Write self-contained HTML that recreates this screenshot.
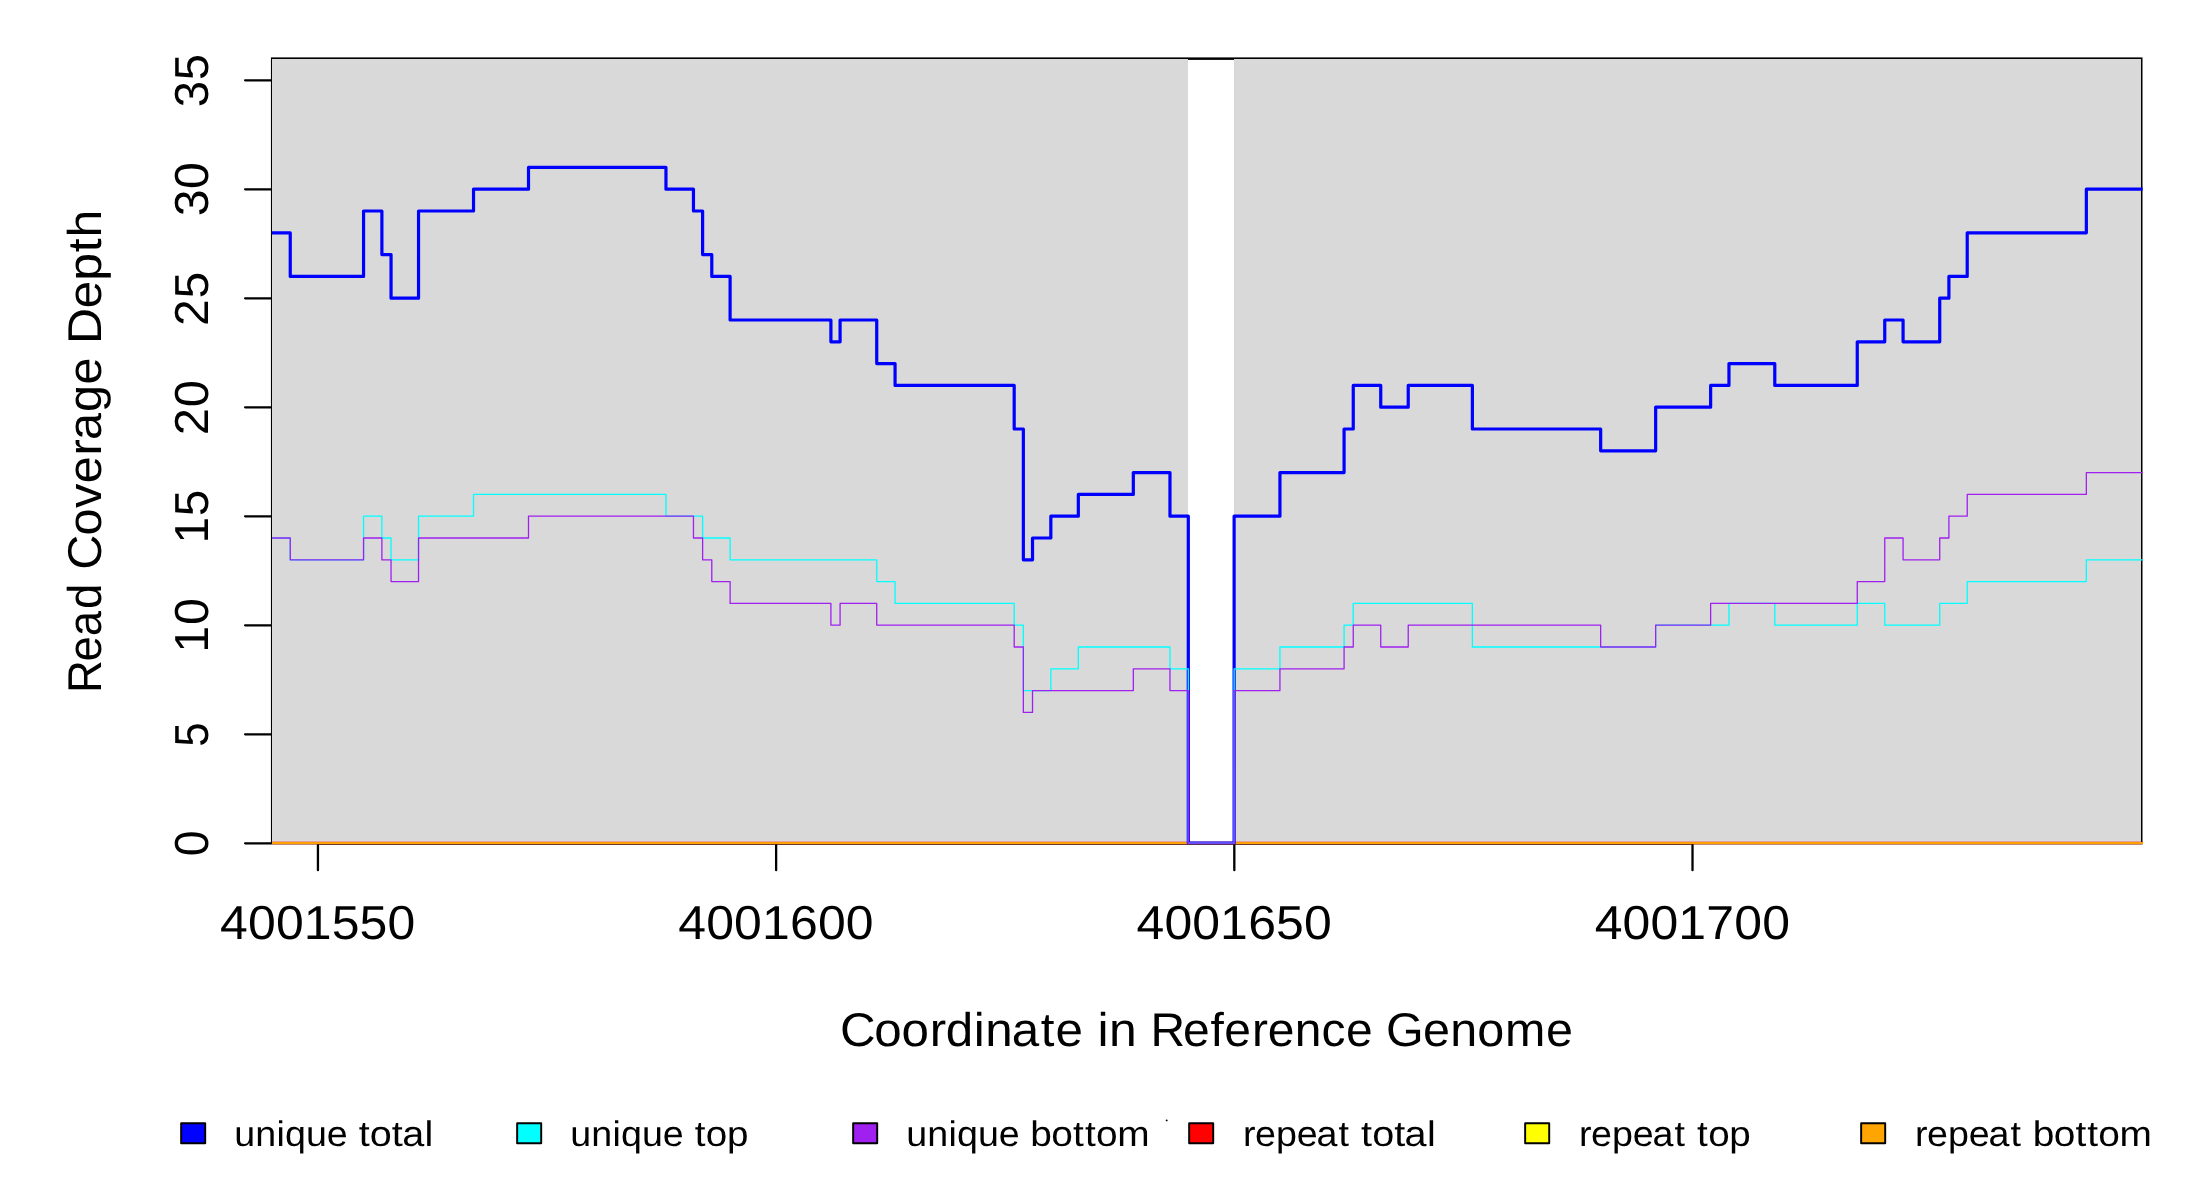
<!DOCTYPE html>
<html><head><meta charset="utf-8"><title>coverage</title>
<style>html,body{margin:0;padding:0;background:#fff}svg{display:block}text{font-family:"Liberation Sans",sans-serif;fill:#000;font-kerning:none;text-rendering:geometricPrecision}</style></head><body>
<svg width="2200" height="1200" viewBox="0 0 2200 1200">
<rect width="2200" height="1200" fill="#fff"/>
<defs><clipPath id="c"><rect x="272" y="40" width="1870.7" height="804.35"/></clipPath></defs>
<rect x="270.93" y="57.4" width="1871.57" height="786.95" fill="#000"/>
<rect x="316.84" y="843" width="1376.77" height="1.6" fill="#000"/>
<rect x="273.1" y="59.9" width="1867" height="782.1" fill="#fff"/>
<rect x="272" y="59" width="916" height="784.2" fill="#D9D9D9"/>
<rect x="1234" y="59" width="907" height="784.2" fill="#D9D9D9"/>
<g fill="none" stroke-linecap="round" stroke-linejoin="round">
<g clip-path="url(#c)">
<path d="M271.92 843.2H2144.34" stroke="#FF0000" stroke-width="3.0"/>
<path d="M271.92 843.2H2144.34" stroke="#FFFF00" stroke-width="1.3"/>
<path d="M271.92 843.2H2144.34" stroke="#FFA500" stroke-width="1.9"/>
<path d="M271.92 232.8H290.25V276.4H363.56V211H381.89V254.6H391.05V298.2H418.54V211H473.52V189.2H528.51V167.4H665.96V189.2H693.45V211H702.62V254.6H711.78V276.4H730.11V320H830.91V341.8H840.08V320H876.73V363.6H895.06V385.4H1014.19V429H1023.35V559.8H1032.52V538H1050.84V516.2H1078.33V494.4H1133.32V472.6H1169.97V516.2H1188.3V843.2H1234.12V516.2H1279.94V472.6H1344.08V429H1353.25V385.4H1380.74V407.2H1408.23V385.4H1472.38V429H1600.67V450.8H1655.65V407.2H1710.64V385.4H1728.96V363.6H1774.78V385.4H1857.26V341.8H1884.75V320H1903.08V341.8H1939.73V298.2H1948.9V276.4H1967.22V232.8H2086.35V189.2H2141.34h3" stroke="#0000FF" stroke-width="3.2"/>
<path d="M271.92 538H290.25V559.8H363.56V516.2H381.89V538H391.05V559.8H418.54V516.2H473.52V494.4H665.96V516.2H702.62V538H730.11V559.8H876.73V581.6H895.06V603.4H1014.19V625.2H1023.35V690.6H1050.84V668.8H1078.33V647H1169.97V668.8H1188.3V843.2H1234.12V668.8H1279.94V647H1344.08V625.2H1353.25V603.4H1472.38V647H1655.65V625.2H1728.96V603.4H1774.78V625.2H1857.26V603.4H1884.75V625.2H1939.73V603.4H1967.22V581.6H2086.35V559.8H2141.34h3" stroke="#00FFFF" stroke-width="1.3"/>
<path d="M271.92 538H290.25V559.8H363.56V538H381.89V559.8H391.05V581.6H418.54V538H528.51V516.2H693.45V538H702.62V559.8H711.78V581.6H730.11V603.4H830.91V625.2H840.08V603.4H876.73V625.2H1014.19V647H1023.35V712.4H1032.52V690.6H1133.32V668.8H1169.97V690.6H1188.3V843.2H1234.12V690.6H1279.94V668.8H1344.08V647H1353.25V625.2H1380.74V647H1408.23V625.2H1600.67V647H1655.65V625.2H1710.64V603.4H1857.26V581.6H1884.75V538H1903.08V559.8H1939.73V538H1948.9V516.2H1967.22V494.4H2086.35V472.6H2141.34h3" stroke="#A020F0" stroke-width="1.3"/>
</g>
<path d="M245.1 843.3H270.8M245.1 734.3H270.8M245.1 625.3H270.8M245.1 516.3H270.8M245.1 407.3H270.8M245.1 298.3H270.8M245.1 189.3H270.8M245.1 80.3H270.8M317.94 845.3V870.2M776.13 845.3V870.2M1234.32 845.3V870.2M1692.51 845.3V870.2" stroke="#000" stroke-width="2.3"/>
</g>
<g opacity="0.999">
<text transform="translate(219.54 938.8) scale(1.0459 1)" font-size="47.75" x="0.55 27.23 53.92 80.48 107.23 133.92 160.69">4001550</text>
<text transform="translate(677.73 938.8) scale(1.0459 1)" font-size="47.75" x="0.55 27.23 53.92 80.48 107.3 134 160.69">4001600</text>
<text transform="translate(1135.92 938.8) scale(1.0459 1)" font-size="47.75" x="0.55 27.23 53.92 80.48 107.3 133.92 160.69">4001650</text>
<text transform="translate(1594.11 938.8) scale(1.0459 1)" font-size="47.75" x="0.55 27.23 53.92 80.48 107.26 134 160.69">4001700</text>
<text transform="translate(208 857.43) rotate(-90) scale(0.9736 1)" font-size="47.75" x="1.12">0</text>
<text transform="translate(208 748.43) rotate(-90) scale(0.9189 1)" font-size="47.75" x="1.79">5</text>
<text transform="translate(208 653.46) rotate(-90) scale(1.0154 1)" font-size="47.75" x="0.7 27.92">10</text>
<text transform="translate(208 544.46) rotate(-90) scale(0.9989 1)" font-size="47.75" x="0.86 28.22">15</text>
<text transform="translate(208 435.46) rotate(-90) scale(1.0228 1)" font-size="47.75" x="0.31 27.59">20</text>
<text transform="translate(208 326.46) rotate(-90) scale(1.0067 1)" font-size="47.75" x="0.44 27.86">25</text>
<text transform="translate(208 217.46) rotate(-90) scale(1.0081 1)" font-size="47.75" x="1.1 28.26">30</text>
<text transform="translate(208 108.46) rotate(-90) scale(0.9922 1)" font-size="47.75" x="1.24 28.54">35</text>
<text transform="translate(841.3 1046.1) scale(1.0411 1)" font-size="47.4" x="-1.32 31.76 57.89 84.9 100.36 127.28 138.27 163.76 191.64 205.69">Coordinate</text>
<text transform="translate(841.3 1046.1) scale(1.0531 1)" font-size="47.4" x="243.32 254.2">in</text>
<text transform="translate(841.3 1046.1) scale(1.0118 1)" font-size="47.4" x="305.64 337.72 364.96 378.55 405.9 421.49 448.27 474.69 498.87">Reference</text>
<text transform="translate(841.3 1046.1) scale(1.0227 1)" font-size="47.4" x="532.62 568.69 595.33 621.88 648.91 689.04">Genome</text>
<text transform="translate(101 693.03) rotate(-90) scale(0.9616 1)" font-size="47.4" x="0.07 32.79 59.12 87.29">Read</text>
<text transform="translate(101 693.03) rotate(-90) scale(1.0253 1)" font-size="47.4" x="120.34 153.62 180.38 204.57 231.75 246.77 274.06 300.82">Coverage</text>
<text transform="translate(101 693.03) rotate(-90) scale(1.0544 1)" font-size="47.4" x="331.05 364.63 390.93 417.95 432.01">Depth</text>
<rect x="181.15" y="1123.15" width="24.05" height="20.1" fill="#0000FF" stroke="#000" stroke-width="1.95" stroke-linejoin="round"/>
<text transform="translate(234.22 1146.1) scale(1.0562 1)" font-size="35.6" x="0.15 20.03 40.02 48.05 67.92 87.66">unique</text>
<text transform="translate(234.22 1146.1) scale(1.1125 1)" font-size="35.6" x="111.88 121.85 141.64 151.01 171.11">total</text>
<rect x="517.15" y="1123.15" width="24.05" height="20.1" fill="#00FFFF" stroke="#000" stroke-width="1.95" stroke-linejoin="round"/>
<text transform="translate(570.22 1146.1) scale(1.0562 1)" font-size="35.6" x="0.15 20.03 40.02 48.05 67.92 87.66">unique</text>
<text transform="translate(570.22 1146.1) scale(1.0848 1)" font-size="35.6" x="114.8 124.97 144.44">top</text>
<rect x="853.15" y="1123.15" width="24.05" height="20.1" fill="#A020F0" stroke="#000" stroke-width="1.95" stroke-linejoin="round"/>
<text transform="translate(906.22 1146.1) scale(1.0562 1)" font-size="35.6" x="0.15 20.03 40.02 48.05 67.92 87.66">unique</text>
<text transform="translate(906.22 1146.1) scale(1.0918 1)" font-size="35.6" x="113.62 132.89 152.81 163.69 173.81 193.29">bottom</text>
<rect x="1189.15" y="1123.15" width="24.05" height="20.1" fill="#FF0000" stroke="#000" stroke-width="1.95" stroke-linejoin="round"/>
<text transform="translate(1242.22 1146.1) scale(1.0574 1)" font-size="35.6" x="0.75 12.14 31.86 51.48 70.33 91.13">repeat</text>
<text transform="translate(1242.22 1146.1) scale(1.1125 1)" font-size="35.6" x="106.83 116.8 136.59 145.96 166.06">total</text>
<rect x="1525.15" y="1123.15" width="24.05" height="20.1" fill="#FFFF00" stroke="#000" stroke-width="1.95" stroke-linejoin="round"/>
<text transform="translate(1578.22 1146.1) scale(1.0574 1)" font-size="35.6" x="0.75 12.14 31.86 51.48 70.33 91.13">repeat</text>
<text transform="translate(1578.22 1146.1) scale(1.0848 1)" font-size="35.6" x="109.62 119.79 139.26">top</text>
<rect x="1861.15" y="1123.15" width="24.05" height="20.1" fill="#FFA500" stroke="#000" stroke-width="1.95" stroke-linejoin="round"/>
<text transform="translate(1914.22 1146.1) scale(1.0574 1)" font-size="35.6" x="0.75 12.14 31.86 51.48 70.33 91.13">repeat</text>
<text transform="translate(1914.22 1146.1) scale(1.0918 1)" font-size="35.6" x="108.47 127.74 147.67 158.55 168.67 188.14">bottom</text>
</g>
<circle cx="1166.7" cy="1120.4" r="0.95" fill="#000"/>
</svg></body></html>
